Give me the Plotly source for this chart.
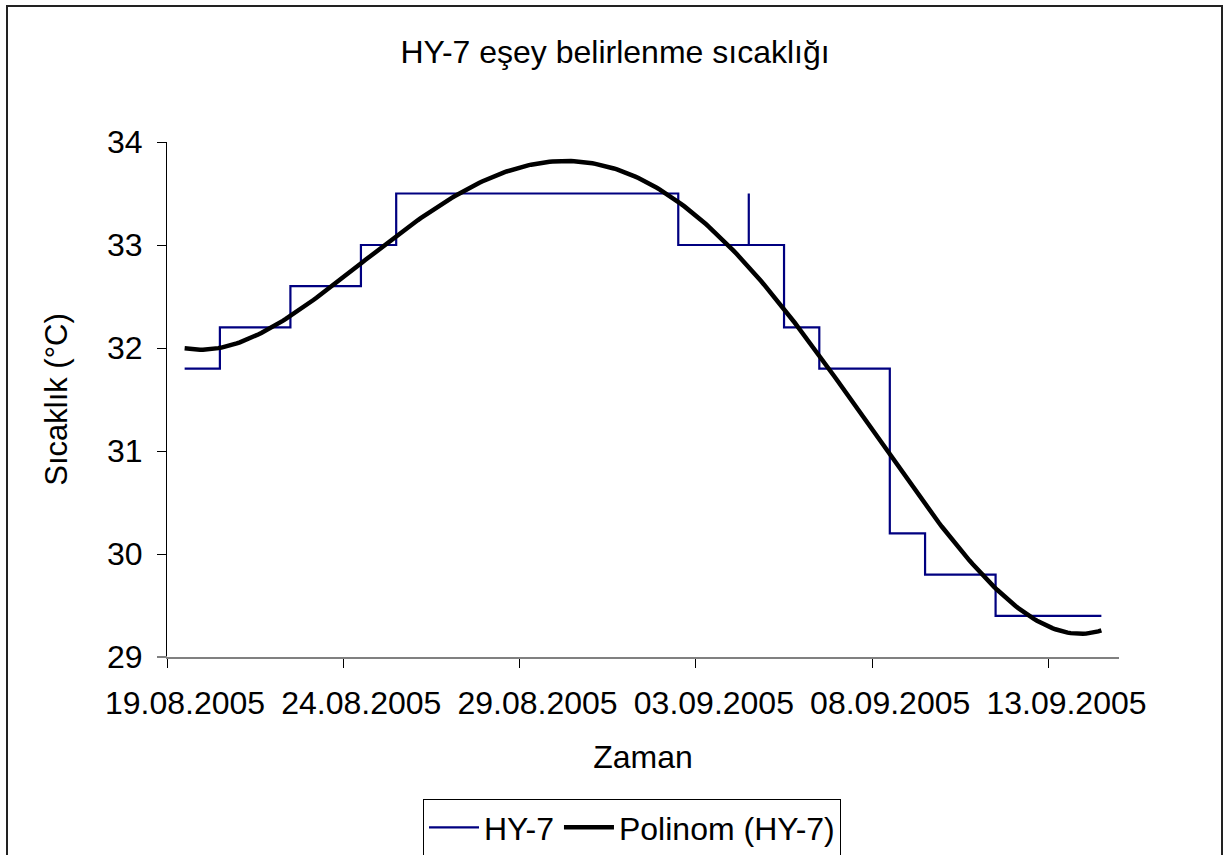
import numpy as np
import pandas as pd
import plotly.graph_objects as go

# Logger readings grouped by day: on days when the temperature changed,
# the first and last reading of the day are both listed (04.09 also has a short peak).
dates = [
    "2005-08-19",
    "2005-08-20", "2005-08-20",
    "2005-08-21",
    "2005-08-22", "2005-08-22",
    "2005-08-23",
    "2005-08-24", "2005-08-24",
    "2005-08-25", "2005-08-25",
    "2005-08-26", "2005-08-27", "2005-08-28", "2005-08-29",
    "2005-08-30", "2005-08-31", "2005-09-01",
    "2005-09-02", "2005-09-02",
    "2005-09-03",
    "2005-09-04", "2005-09-04", "2005-09-04",
    "2005-09-05", "2005-09-05",
    "2005-09-06", "2005-09-06",
    "2005-09-07",
    "2005-09-08", "2005-09-08",
    "2005-09-09", "2005-09-09",
    "2005-09-10",
    "2005-09-11", "2005-09-11",
    "2005-09-12", "2005-09-13", "2005-09-14",
]
temps = [
    31.8,
    31.8, 32.2,
    32.2,
    32.2, 32.6,
    32.6,
    32.6, 33.0,
    33.0, 33.5,
    33.5, 33.5, 33.5, 33.5,
    33.5, 33.5, 33.5,
    33.5, 33.0,
    33.0,
    33.0, 33.5, 33.0,
    33.0, 32.2,
    32.2, 31.8,
    31.8,
    31.8, 30.2,
    30.2, 29.8,
    29.8,
    29.8, 29.4,
    29.4, 29.4, 29.4,
]
tick_labels_start = "2005-08-19"
poly_order = 4

# Each day is drawn at its centre (noon); time of day is not resolved
day = pd.to_datetime(dates)
t = day + pd.Timedelta(hours=12)
days = (day - day[0]).days.to_numpy().astype(float)
y = np.array(temps)

# Polynomial trendline fitted on the readings (x in days)
coef = np.polyfit(days, y, poly_order)
grid = np.linspace(days.min(), days.max(), 300)
grid_t = t[0] + pd.to_timedelta(grid, unit="D")

FONT = "Liberation Sans, Arial, sans-serif"

fig = go.Figure()
fig.add_trace(go.Scatter(
    x=t, y=y, mode="lines", name="HY-7",
    line=dict(color="#000080", width=2.2),
))
fig.add_trace(go.Scatter(
    x=grid_t, y=np.polyval(coef, grid), mode="lines", name="Polinom (HY-7)",
    line=dict(color="black", width=4.5),
))

L, R, T, B = 167, 1119, 142, 657
W, H = 1226, 855
pw, ph = R - L, B - T
day_px = pw / 27.0

def px(xp):
    return (xp - L) / pw

def py(yp):
    return (B - yp) / ph

fig.update_layout(
    width=W, height=H,
    margin=dict(l=L, r=W - R, t=T, b=H - B, pad=0, autoexpand=False),
    paper_bgcolor="white", plot_bgcolor="white",
    font=dict(family=FONT, size=32, color="black"),
    title=dict(text="HY-7 eşey belirlenme sıcaklığı", x=615 / W, xanchor="center",
               y=1 - 52 / H, yanchor="middle", yref="container",
               font=dict(size=32, family=FONT)),
    xaxis=dict(
        type="date", range=["2005-08-19", "2005-09-15"],
        tick0=tick_labels_start, dtick=5 * 86400000, tickformat="%d.%m.%Y",
        ticks="outside", ticklen=9, tickcolor="black", tickwidth=1,
        ticklabelshift=round(day_px / 2),
        showline=True, linecolor="#808080", linewidth=2,
        showgrid=False, zeroline=False, ticklabelstandoff=8,
        title=dict(text="Zaman", standoff=25, font=dict(size=32, family=FONT)),
    ),
    yaxis=dict(
        range=[29, 34], dtick=1, ticks="outside", ticklen=9, tickcolor="black",
        tickwidth=1, showline=True, linecolor="black", linewidth=1,
        showgrid=False, zeroline=False, ticklabelstandoff=8,
        title=dict(text="Sıcaklık (°C)", standoff=30, font=dict(size=31, family=FONT)),
    ),
    legend=dict(
        orientation="h", xref="container", yref="container",
        x=423 / W, y=1 - 799 / H, xanchor="left", yanchor="top",
        bordercolor="black", borderwidth=1, bgcolor="white",
        font=dict(size=32, family=FONT), itemwidth=50, tracegroupgap=0,
    ),
    shapes=[
        # outer chart frame
        dict(type="rect", xref="paper", yref="paper",
             x0=px(7), x1=px(1222), y0=py(870), y1=py(6),
             line=dict(color="#222222", width=2), layer="below"),
        # short extension of the category axis to the left
        dict(type="line", xref="paper", yref="paper",
             x0=px(157), x1=0, y0=0, y1=0,
             line=dict(color="#808080", width=2)),
    ],
)

fig.write_html("out.html")
